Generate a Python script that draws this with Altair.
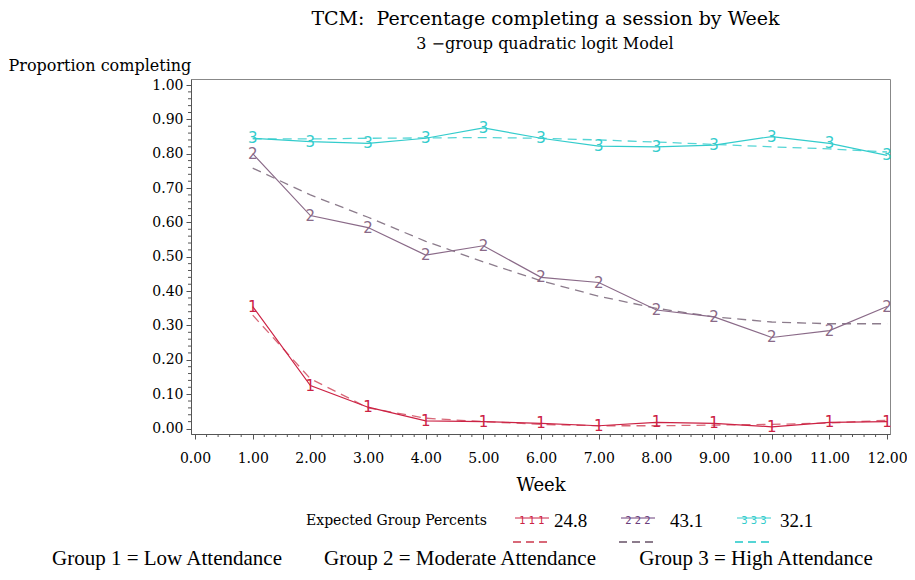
import altair as alt
import pandas as pd
import numpy as np

# ---------------- data ----------------
weeks = [1, 2, 3, 4, 5, 6, 7, 8, 9, 10, 11, 12]
g1_obs = [0.355, 0.125, 0.062, 0.022, 0.020, 0.015, 0.008, 0.018, 0.015, 0.005, 0.018, 0.020]
g1_pred = [0.330, 0.145, 0.060, 0.030, 0.020, 0.012, 0.008, 0.008, 0.010, 0.012, 0.016, 0.024]
g2_obs = [0.800, 0.620, 0.585, 0.505, 0.532, 0.440, 0.425, 0.345, 0.325, 0.265, 0.285, 0.355]
g2_pred = [0.758, 0.680, 0.615, 0.545, 0.485, 0.430, 0.385, 0.350, 0.325, 0.310, 0.305, 0.305]
g3_obs = [0.845, 0.835, 0.830, 0.845, 0.875, 0.845, 0.822, 0.820, 0.825, 0.850, 0.830, 0.795]
g3_pred = [0.843, 0.843, 0.845, 0.846, 0.847, 0.845, 0.840, 0.834, 0.827, 0.820, 0.814, 0.805]

groups = ["1", "2", "3"]
percents = ["24.8", "43.1", "32.1"]
x_ticks = [0, 1, 2, 3, 4, 5, 6, 7, 8, 9, 10, 11, 12]
y_ticks = [0.0, 0.1, 0.2, 0.3, 0.4, 0.5, 0.6, 0.7, 0.8, 0.9, 1.0]

title_text = "TCM:\u00a0\u00a0Percentage completing a session by Week"
subtitle_text = "3\u00a0\u2212group quadratic logit Model"
caption_parts = ["Group 1 = Low Attendance", "Group 2 = Moderate Attendance",
                 "Group 3 = High Attendance"]

# ---------------- styles ----------------
obs_colors = ["#cc2244", "#8a6a88", "#33cccc"]
pred_colors = ["#d86878", "#8c7c8c", "#55d5d5"]
legend_sym_colors = ["#cc2244", "#6a3d7a", "#33cccc"]
W, H = 699, 355
PAD_L = 183
SH = 187 - PAD_L  # keep annotations at the same page position
SERIF = "DejaVu Serif"
AX = "#555555"

obs_series = [g1_obs, g2_obs, g3_obs]
pred_series = [g1_pred, g2_pred, g3_pred]
rows_obs, rows_pred = [], []
for g, so, sp in zip(groups, obs_series, pred_series):
    for w, vo, vp in zip(weeks, so, sp):
        rows_obs.append({"week": w, "value": vo, "group": g})
        rows_pred.append({"week": w, "value": vp, "group": g})
df_obs = pd.DataFrame(rows_obs)
df_pred = pd.DataFrame(rows_pred)

xscale = alt.Scale(domain=[-0.07, 12.05], nice=False, zero=False)
yscale = alt.Scale(domain=[-0.016, 1.0175], nice=False, zero=False)

xaxis = alt.Axis(values=x_ticks, format=".2f", title="Week", grid=False,
                 titleFont=SERIF, titleFontSize=18, titleFontWeight="normal",
                 titleColor="black", titleY=51, titleBaseline="middle",
                 labelFont=SERIF, labelFontSize=14, labelColor="black",
                 labelPadding=12, tickSize=5, tickColor=AX, domainColor=AX,
                 labelFlush=False, labelOverlap=False)
yaxis = alt.Axis(values=y_ticks, format=".2f", title="Proportion completing",
                 grid=False, titleFont=SERIF, titleFontSize=16,
                 titleFontWeight="normal", titleColor="black", titleAngle=0,
                 titleAlign="left", titleBaseline="middle", titleX=-PAD_L, titleY=-14,
                 labelFont=SERIF, labelFontSize=14, labelColor="black",
                 labelPadding=3, tickSize=5, tickColor=AX, domainColor=AX,
                 labelFlush=False, labelOverlap=False)

X = alt.X("week:Q", scale=xscale, axis=xaxis)
Y = alt.Y("value:Q", scale=yscale, axis=yaxis)

obs_color = alt.Color("group:N", scale=alt.Scale(domain=groups, range=obs_colors), legend=None)
pred_color = alt.Color("group:N", scale=alt.Scale(domain=groups, range=pred_colors), legend=None)

pred = alt.Chart(df_pred).mark_line(strokeDash=[9, 6], strokeWidth=1.3).encode(
    x=X, y=Y, color=pred_color, detail="group:N")
obs = alt.Chart(df_obs).mark_line(strokeWidth=1.2).encode(
    x=X, y=Y, color=obs_color, detail="group:N")
markers = alt.Chart(df_obs).mark_text(font="DejaVu Sans", fontSize=15, baseline="middle").encode(
    x=X, y=Y, text="group:N", color=obs_color)

# minor ticks
x_minor = [round(v, 1) for v in np.arange(0, 12.001, 0.2) if abs(v - round(v)) > 1e-6]
y_minor = [round(v, 2) for v in np.arange(0, 1.0001, 0.02) if abs(v * 10 - round(v * 10)) > 1e-6]
xminor = alt.Chart(pd.DataFrame({"week": x_minor})).mark_rule(color=AX).encode(
    x=X, y=alt.value(H), y2=alt.value(H + 3))
yminor = alt.Chart(pd.DataFrame({"value": y_minor})).mark_rule(color=AX).encode(
    y=Y, x=alt.value(0), x2=alt.value(-3))


def label(txt, x, y, size, font=SERIF, color="black", align="center"):
    return alt.Chart(pd.DataFrame({"t": [txt]})).mark_text(
        font=font, fontSize=size, color=color, align=align, baseline="middle"
    ).encode(x=alt.value(x + SH), y=alt.value(y), text="t:N")


caption_x = [-28, 265, 561]
texts = [
    label(title_text, 350.5, -60, 19),
    label(subtitle_text, 350, -35, 16),
    label("Expected Group Percents", 292, 442, 14, align="right"),
]
for cx, part in zip(caption_x, caption_parts):
    texts.append(label(part, cx, 480, 21, font="Liberation Serif"))

# custom legend
sym_cx = [337, 443, 559]
val_x = [359, 475, 585]
leg_layers = []
for i, g in enumerate(groups):
    c = legend_sym_colors[i]
    leg_layers.append(label(f"{g} {g} {g}", sym_cx[i], 442, 10, font="DejaVu Sans", color=c))
    leg_layers.append(alt.Chart(pd.DataFrame({"a": [0]})).mark_rule(color=c, strokeWidth=1).encode(
        x=alt.value(sym_cx[i] - 17 + SH), x2=alt.value(sym_cx[i] + 17 + SH), y=alt.value(439)))
    leg_layers.append(alt.Chart(pd.DataFrame({"a": [0]})).mark_rule(
        color=pred_colors[i], strokeWidth=2, strokeDash=[8, 5]).encode(
        x=alt.value(sym_cx[i] - 19 + SH), x2=alt.value(sym_cx[i] + 19 + SH), y=alt.value(463)))
    leg_layers.append(label(percents[i], val_x[i], 442, 19, font="Liberation Serif", align="left"))

chart = alt.layer(
    xminor, yminor, pred, obs, markers, *texts, *leg_layers
).resolve_scale(color="independent").properties(
    width=W, height=H,
    autosize=alt.AutoSizeParams(type="none"),
    padding={"left": PAD_L, "top": 71, "right": 17, "bottom": 138},
    background="white",
).configure_view(stroke="#888888", strokeWidth=1)

chart.save("out.html", embed_options={"renderer": "svg", "actions": False})
